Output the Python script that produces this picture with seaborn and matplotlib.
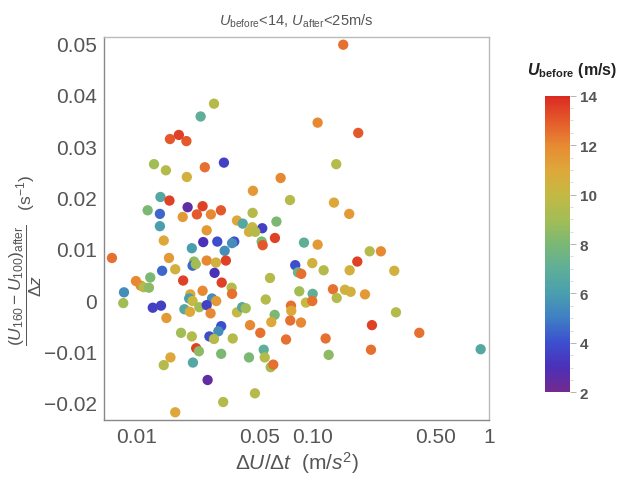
import numpy as np
import pandas as pd
import matplotlib
matplotlib.use("Agg")
import matplotlib.pyplot as plt
import seaborn as sns
from matplotlib.colors import LinearSegmentedColormap, Normalize
from matplotlib.ticker import FixedLocator, FixedFormatter, LogLocator, NullFormatter, MultipleLocator

# ---- data ----
accel = [0.0274, 0.0230, 0.0154, 0.0173, 0.0191, 0.0312, 0.0125, 0.0146, 0.0192, 0.0243,
         0.0655, 0.0456, 0.0740, 0.0136, 0.0153, 0.0115, 0.0135, 0.0194, 0.0236, 0.0219,
         0.0263, 0.0182, 0.0300, 0.0370, 0.0399, 0.0454, 0.0452, 0.0515, 0.0620, 0.0135,
         0.0433, 0.0470, 0.0249, 0.0142, 0.0238, 0.0286, 0.0357, 0.0347, 0.0315, 0.0205,
         0.0511, 0.0518, 0.0608, 0.00721, 0.0152, 0.0211, 0.0207, 0.0216, 0.0249, 0.0281,
         0.0320, 0.0139, 0.0165, 0.0276, 0.0183, 0.0303, 0.0345, 0.0347, 0.0570, 0.0793,
         0.0822, 0.0119, 0.00987, 0.0105, 0.0109, 0.0117, 0.00844, 0.00836, 0.0123, 0.0137,
         0.0147, 0.0201, 0.0198, 0.0207, 0.0236, 0.0267, 0.0282, 0.0226, 0.0249, 0.0186,
         0.0200, 0.0262, 0.0370, 0.0396, 0.0415, 0.0539, 0.0606, 0.0580, 0.0439, 0.0502,
         0.0750, 0.0753, 0.0743, 0.0703, 0.0301, 0.0290, 0.0258, 0.0274, 0.0350, 0.0178,
         0.0205, 0.0217, 0.0225, 0.0301, 0.0433, 0.0525, 0.0532, 0.0575, 0.0595, 0.0155,
         0.0142, 0.0208, 0.0252, 0.0468, 0.0309, 0.0165, 0.1486, 0.1063, 0.1808, 0.1356,
         0.1316, 0.1607, 0.0889, 0.1063, 0.2100, 0.2432, 0.0991, 0.1150, 0.1786, 0.1616,
         0.2897, 0.0858, 0.0836, 0.0996, 0.0912, 0.0991, 0.1299, 0.1364, 0.1520, 0.1637,
         0.1975, 0.0855, 0.2962, 0.2163, 0.4018, 0.1180, 0.1228, 0.2136, 0.897]
shear = [0.0383, 0.0358, 0.0314, 0.0322, 0.0310, 0.0268, 0.0265, 0.0253, 0.0240, 0.0259,
         0.0238, 0.0213, 0.0195, 0.0201, 0.0194, 0.0175, 0.0168, 0.0181, 0.0183, 0.0167,
         0.0167, 0.0162, 0.0175, 0.0155, 0.0149, 0.0170, 0.0142, 0.0140, 0.0153, 0.0144,
         0.0133, 0.0133, 0.0136, 0.0116, 0.0113, 0.0114, 0.0114, 0.0111, 0.0096, 0.0101,
         0.0114, 0.0107, 0.0121, 0.0082, 0.0082, 0.0075, 0.0067, 0.0070, 0.0077, 0.0073,
         0.0077, 0.0057, 0.0060, 0.0053, 0.0038, 0.0034, 0.0024, 0.0012, 0.0043, 0.0068,
         0.0054, 0.0044, 0.0037, 0.0028, 0.0025, 0.0024, 0.0015, -0.0006, -0.0015, -0.0011,
         -0.0035, 0.0011, 0.0003, -0.0002, 0.0018, 0.0003, -0.0002, -0.0014, -0.0010, -0.0018,
         -0.0023, -0.0026, -0.0024, -0.0014, -0.0016, 0.0001, -0.0029, -0.0043, -0.0049, -0.0064,
         -0.0011, -0.0021, -0.0040, -0.0077, -0.0051, -0.0061, -0.0071, -0.0076, -0.0075, -0.0064,
         -0.0071, -0.0094, -0.0100, -0.0105, -0.0112, -0.0097, -0.0112, -0.0131, -0.0126, -0.0112,
         -0.0127, -0.0122, -0.0156, -0.0182, -0.0199, -0.0219, 0.0498, 0.0346, 0.0326, 0.0265,
         0.0190, 0.0168, 0.0112, 0.0108, 0.0095, 0.0095, 0.0072, 0.0058, 0.0075, 0.0058,
         0.0057, 0.0051, 0.0017, 0.0012, -0.0005, -0.0002, 0.0021, 0.0004, 0.0020, 0.0016,
         0.0011, -0.0044, -0.0024, -0.0049, -0.0064, -0.0075, -0.0107, -0.0097, -0.0096]
u_before = [9.5, 7, 13, 13.5, 13, 3.5, 9, 9.5, 10.5, 12.5,
            12, 11.5, 9.5, 6.5, 13.5, 8, 4.5, 2.5, 13.5, 13,
            12, 11.5, 13, 11, 6.5, 9.5, 10, 3.5, 8, 6,
            10.5, 9.5, 11.5, 11, 3, 4, 4, 5.5, 5.5, 6,
            8, 13, 13.5, 12.5, 11.5, 8.5, 4.5, 9, 12, 10.5,
            13.5, 4.5, 10.5, 3, 13.5, 13.5, 9.5, 12.5, 9.5, 4,
            7.5, 8, 12, 12, 9.5, 8.5, 5.5, 9, 3.5, 3.5,
            11.5, 11, 6, 10, 12, 5.5, 11.5, 9, 3.5, 6.5,
            11, 12, 10, 6.5, 9, 9.5, 8, 11, 12, 12.5,
            12.5, 11, 12.5, 12.5, 4, 5.5, 4, 9.5, 9.5, 9,
            9.5, 13.5, 8.5, 8, 8, 7, 9.5, 9, 12.5, 11,
            9.5, 6.5, 2.5, 9.5, 9.5, 11, 12.5, 12, 13, 9.5,
            11, 11.5, 7, 11.5, 9.5, 12, 10.5, 9.5, 13.5, 10.5,
            10.5, 12.5, 9, 7, 10, 12.5, 12.5, 9.5, 10.5, 10.5,
            11.5, 12, 9.5, 13.5, 12.5, 12.5, 8.5, 12.5, 6.5]

cbar_ticks = [2, 4, 6, 8, 10, 12, 14]
x_ticks = [0.01, 0.05, 0.1, 0.5, 1]
x_ticklabels = ["0.01", "0.05", "0.10", "0.50", "1"]
y_ticks = [-0.02, -0.01, 0, 0.01, 0.02, 0.03, 0.04, 0.05]
y_ticklabels = ["\u22120.02", "\u22120.01", "0", "0.01", "0.02", "0.03", "0.04", "0.05"]

df = pd.DataFrame({"accel": accel, "shear": shear, "u": u_before})

# ---- style ----
sns.set_style("white")
plt.rcParams["font.family"] = ["Liberation Sans", "DejaVu Sans"]
plt.rcParams["mathtext.fontset"] = "custom"
plt.rcParams["mathtext.rm"] = "Liberation Sans"
plt.rcParams["mathtext.it"] = "Liberation Sans:italic"
plt.rcParams["mathtext.bf"] = "Liberation Sans:bold"
plt.rcParams["mathtext.bfit"] = "Liberation Sans:bold:italic"

rainbow = LinearSegmentedColormap.from_list(
    "mma_rainbow",
    [(0.0, "#742a8e"), (1/12, "#4b30b8"), (2/12, "#3c4fcf"), (3/12, "#3f7fc4"),
     (4/12, "#4a9fae"), (5/12, "#5fae98"), (6/12, "#7ab874"), (7/12, "#a3bd55"),
     (8/12, "#c4b943"), (9/12, "#dea83a"), (10/12, "#e78a33"), (11/12, "#e45a2b"),
     (1.0, "#db2a22")])
norm = Normalize(2, 14)

fig = plt.figure(figsize=(6.17, 4.85), dpi=100)
ax = fig.add_axes([0.1686, 0.132, 0.6239, 0.7896])

sns.scatterplot(data=df, x="accel", y="shear", hue="u", palette=rainbow, hue_norm=norm,
                s=55, linewidth=0, legend=False, ax=ax, zorder=3)

ax.set_xscale("log")
ax.set_xlim(0.0065, 1.0)
ax.set_ylim(-0.0234, 0.0513)

gray = "#555555"
ax.xaxis.set_major_locator(FixedLocator(x_ticks))
ax.xaxis.set_major_formatter(FixedFormatter(x_ticklabels))
ax.xaxis.set_minor_locator(LogLocator(base=10, subs=np.arange(2, 10)))
ax.xaxis.set_minor_formatter(NullFormatter())
ax.yaxis.set_major_locator(FixedLocator(y_ticks))
ax.yaxis.set_major_formatter(FixedFormatter(y_ticklabels))
ax.yaxis.set_minor_locator(MultipleLocator(0.002))

ax.tick_params(which="major", direction="in", length=6, width=0.8, color="#aaaaaa",
               labelsize=15, labelcolor=gray, pad=5)
ax.tick_params(which="minor", direction="in", length=3.5, width=0.6, color="#aaaaaa")
ax.tick_params(top=False, right=False, which="both")

for side in ["left", "bottom"]:
    ax.spines[side].set_color("#888888")
    ax.spines[side].set_linewidth(1.0)
for side in ["top", "right"]:
    ax.spines[side].set_color("#bbbbbb")
    ax.spines[side].set_linewidth(1.0)

ax.set_xlabel(r"$\Delta U/\Delta t$  (m/$s^2$)", fontsize=15, color=gray, labelpad=2)
ax.set_ylabel(r"$\dfrac{(U_{160}-U_{100})_{\mathrm{after}}}{\Delta z}$   (s$^{-1}$)",
              fontsize=12.5, color=gray)
ax.yaxis.set_label_coords(-0.155, 0.42)
ax.set_title(r"$U_{\mathrm{before}}$<14, $U_{\mathrm{after}}$<25m/s", fontsize=10.5,
             color=gray, pad=9)

# ---- colorbar ----
cax = fig.add_axes([0.8833, 0.189, 0.0405, 0.6115])
sm = plt.cm.ScalarMappable(cmap=rainbow, norm=norm)
cb = fig.colorbar(sm, cax=cax, ticks=cbar_ticks)
cb.outline.set_visible(False)
cb.ax.yaxis.set_minor_locator(MultipleLocator(0.5))
cb.ax.tick_params(which="major", length=4, width=0.6, color="#aaaaaa", labelsize=11,
                  labelcolor=gray, pad=3)
cb.ax.tick_params(which="minor", length=2, width=0.5, color="#cccccc")
for lab in cb.ax.get_yticklabels():
    lab.set_fontweight("bold")
fig.text(0.927, 0.855, r"$\mathbfit{U}_{\mathbf{before}}$ (m/s)", fontsize=11.5,
         fontweight="bold", ha="center", va="center", color="#222222")

fig.savefig("out.png", dpi=100)
